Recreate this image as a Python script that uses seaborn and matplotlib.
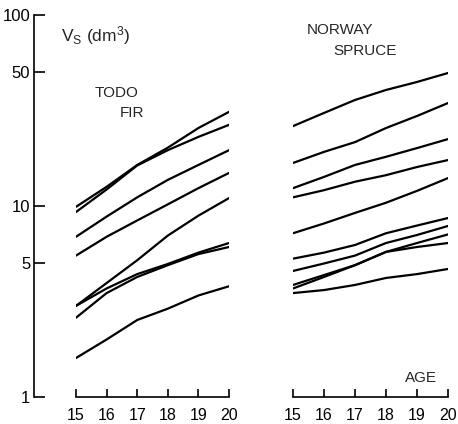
import numpy as np
import pandas as pd
import matplotlib
matplotlib.use("Agg")
import matplotlib.pyplot as plt
import seaborn as sns

ages = [15, 16, 17, 18, 19, 20]

# Todo fir volume curves (dm3)
fir_a = [9.9, 12.6, 16.4, 20.2, 25.6, 31.1]
fir_b = [9.3, 12.2, 16.3, 19.6, 23.0, 26.6]
fir_c = [6.9, 8.8, 11.1, 13.7, 16.4, 19.6]
fir_d = [5.5, 6.9, 8.4, 10.2, 12.4, 14.9]
fir_e = [3.0, 3.95, 5.2, 7.0, 8.9, 11.0]
fir_f = [3.0, 3.7, 4.4, 4.97, 5.7, 6.4]
fir_g = [2.6, 3.5, 4.25, 4.9, 5.6, 6.1]
fir_h = [1.6, 2.0, 2.53, 2.9, 3.4, 3.8]

# Norway spruce volume curves (dm3)
spr_1 = [26.2, 30.7, 35.9, 40.5, 44.6, 49.7]
spr_2 = [16.8, 19.2, 21.6, 25.6, 29.6, 34.6]
spr_3 = [12.4, 14.2, 16.4, 18.1, 20.1, 22.4]
spr_4 = [11.1, 12.1, 13.4, 14.5, 16.0, 17.4]
spr_5 = [7.2, 8.1, 9.2, 10.4, 12.0, 14.0]
spr_6 = [5.3, 5.7, 6.25, 7.2, 7.9, 8.65]
spr_7 = [4.57, 5.0, 5.5, 6.4, 7.05, 7.86]
spr_8 = [3.86, 4.35, 4.9, 5.75, 6.4, 7.1]
spr_9 = [3.7, 4.25, 4.9, 5.75, 6.1, 6.4]
spr_10 = [3.5, 3.63, 3.86, 4.2, 4.4, 4.68]

fir_series = [fir_a, fir_b, fir_c, fir_d, fir_e, fir_f, fir_g, fir_h]
spr_series = [spr_1, spr_2, spr_3, spr_4, spr_5, spr_6, spr_7, spr_8, spr_9, spr_10]

x_ticks = [15, 16, 17, 18, 19, 20]
y_ticks = [1, 5, 10, 50, 100]
y_ticklabels = ["1", "5", "10", "50", "100"]


def to_long(series_list):
    rows = []
    for i, s in enumerate(series_list):
        for a, v in zip(ages, s):
            rows.append({"age": a, "vol": v, "tree": i})
    return pd.DataFrame(rows)


df_fir = to_long(fir_series)
df_spr = to_long(spr_series)

sns.set_style("ticks")
plt.rcParams["font.family"] = ["Liberation Sans", "DejaVu Sans"]
plt.rcParams["mathtext.fontset"] = "custom"
plt.rcParams["mathtext.rm"] = "Liberation Sans"
plt.rcParams["mathtext.it"] = "Liberation Sans"

W, H = 458, 424
fig = plt.figure(figsize=(W / 100, H / 100), dpi=100)

bottom = 1 - 397 / H
top = 1 - 15 / H
ax1 = fig.add_axes([76 / W, bottom, (229 - 76) / W, top - bottom])
ax2 = fig.add_axes([293 / W, bottom, (448 - 293) / W, top - bottom])

for ax, df in ((ax1, df_fir), (ax2, df_spr)):
    sns.lineplot(data=df, x="age", y="vol", units="tree", estimator=None,
                 color="black", lw=1.6, ax=ax, legend=False)
    ax.set_yscale("log")
    ax.set_xlim(15, 20)
    ax.set_ylim(1, 100)
    ax.set_xticks(x_ticks)
    ax.set_xticklabels([str(t) for t in x_ticks])
    ax.minorticks_off()
    ax.set_xlabel("")
    ax.set_ylabel("")
    for s in ("top", "right"):
        ax.spines[s].set_visible(False)
    ax.spines["bottom"].set_linewidth(1.2)
    ax.tick_params(axis="x", direction="in", length=6, width=1.2,
                   labelsize=11.5, pad=8, colors="black")
    ax.spines["bottom"].set_color("black")

ax1.spines["left"].set_position(("outward", 30))
ax1.spines["left"].set_linewidth(1.2)
ax1.spines["left"].set_color("black")
ax1.set_yticks(y_ticks)
ax1.set_yticklabels(y_ticklabels)
ax1.minorticks_off()
ax1.tick_params(axis="y", direction="in", length=8, width=1.2,
                labelsize=12, pad=3, colors="black")

ax2.spines["left"].set_visible(False)
ax2.set_yticks([])
ax2.minorticks_off()

fig.text(61 / W, 1 - 36 / H, r"V$_{\mathrm{S}}$ (dm$^{3}$)", fontsize=12.5,
         ha="left", va="center")
fig.text(95 / W, 1 - 93 / H, "TODO", fontsize=11, ha="left", va="center")
fig.text(120 / W, 1 - 113 / H, "FIR", fontsize=11, ha="left", va="center")
fig.text(307 / W, 1 - 30 / H, "NORWAY", fontsize=11, ha="left", va="center")
fig.text(333 / W, 1 - 51 / H, "SPRUCE", fontsize=11, ha="left", va="center")
fig.text(405 / W, 1 - 378 / H, "AGE", fontsize=11, ha="left", va="center")

fig.savefig("out.png", dpi=100)
